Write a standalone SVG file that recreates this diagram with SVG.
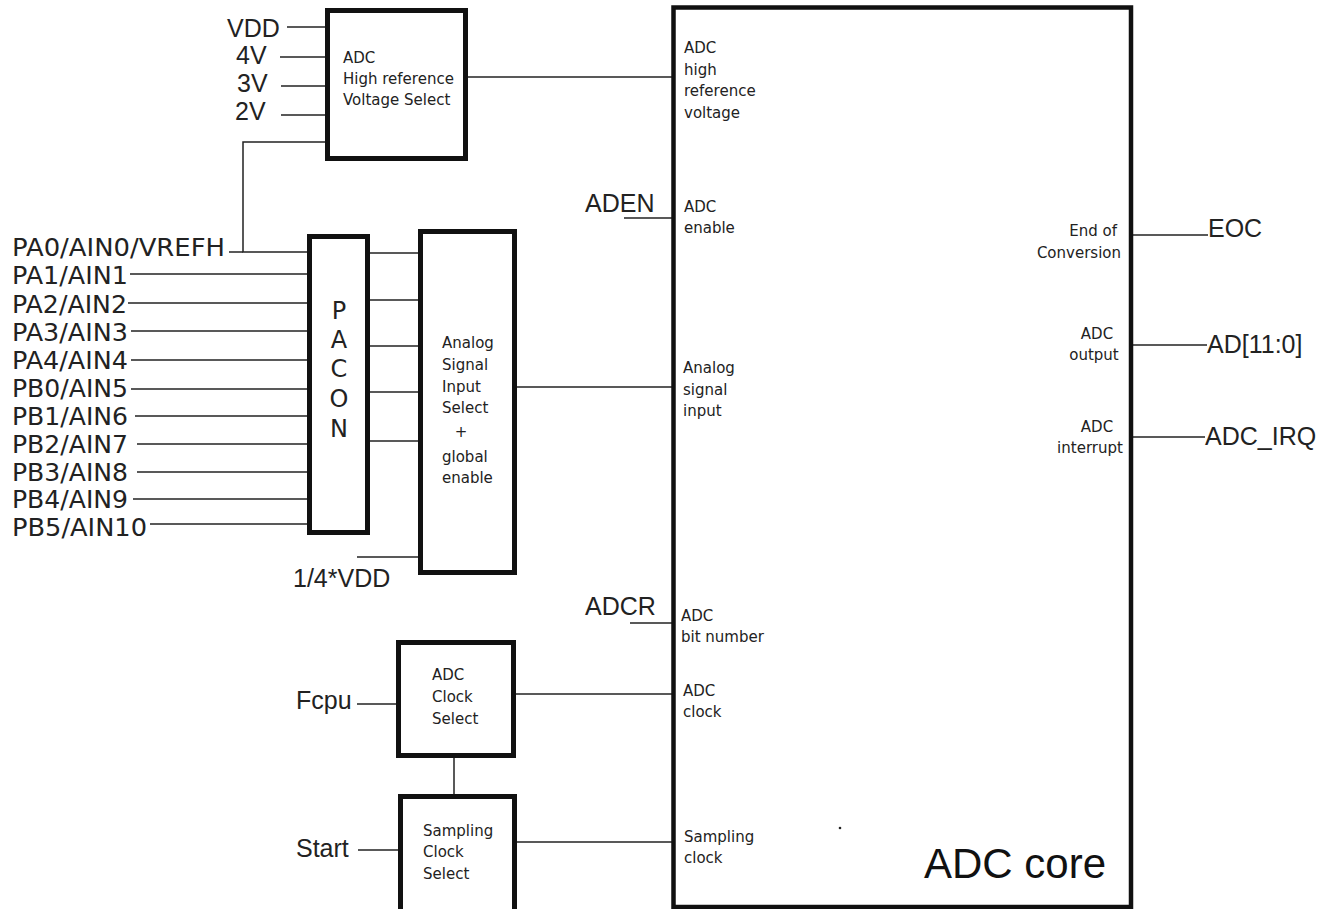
<svg xmlns="http://www.w3.org/2000/svg" width="1331" height="909" viewBox="0 0 1331 909">
<style>
.box{fill:#fff;stroke:#111;stroke-width:5}
.core{fill:#fff;stroke:#111;stroke-width:4.5}
.ln{stroke:#222;stroke-width:1.5;fill:none}
.sm{font-family:"DejaVu Sans",Verdana,sans-serif;font-size:15px;fill:#222}
.lg{font-family:"Liberation Sans",Arial,sans-serif;font-size:25px;fill:#222}
.pin{font-family:"DejaVu Sans",Verdana,sans-serif;font-size:24px;fill:#222}
.pacon{font-family:"DejaVu Sans",Verdana,sans-serif;font-size:24px;fill:#222;text-anchor:middle}
</style>
<rect width="1331" height="909" fill="#fff"/>
<g id="connectors">
<line class="ln" x1="287" y1="27" x2="327" y2="27"/>
<line class="ln" x1="280" y1="57" x2="327" y2="57"/>
<line class="ln" x1="281" y1="86" x2="327" y2="86"/>
<line class="ln" x1="281" y1="115" x2="327" y2="115"/>
<polyline class="ln" points="327,142 243,142 243,252 309,252"/>
<line class="ln" x1="229" y1="252" x2="243" y2="252"/>
<line class="ln" x1="468" y1="77" x2="673" y2="77"/>
<line class="ln" x1="624" y1="218" x2="673" y2="218"/>
<line class="ln" x1="130" y1="274" x2="309" y2="274"/>
<line class="ln" x1="128" y1="303" x2="309" y2="303"/>
<line class="ln" x1="131" y1="331" x2="309" y2="331"/>
<line class="ln" x1="131" y1="360" x2="309" y2="360"/>
<line class="ln" x1="131" y1="389" x2="309" y2="389"/>
<line class="ln" x1="135" y1="416" x2="309" y2="416"/>
<line class="ln" x1="137" y1="444" x2="309" y2="444"/>
<line class="ln" x1="137" y1="472" x2="309" y2="472"/>
<line class="ln" x1="133" y1="499" x2="309" y2="499"/>
<line class="ln" x1="150" y1="524" x2="309" y2="524"/>
<line class="ln" x1="368" y1="253" x2="420" y2="253"/>
<line class="ln" x1="368" y1="300" x2="420" y2="300"/>
<line class="ln" x1="368" y1="346" x2="420" y2="346"/>
<line class="ln" x1="368" y1="392" x2="420" y2="392"/>
<line class="ln" x1="368" y1="441" x2="420" y2="441"/>
<line class="ln" x1="357" y1="557" x2="420" y2="557"/>
<line class="ln" x1="515" y1="387" x2="673" y2="387"/>
<line class="ln" x1="630" y1="623" x2="673" y2="623"/>
<line class="ln" x1="357" y1="704" x2="398" y2="704"/>
<line class="ln" x1="516" y1="694" x2="673" y2="694"/>
<line class="ln" x1="454" y1="756" x2="454" y2="797"/>
<line class="ln" x1="358" y1="850" x2="399" y2="850"/>
<line class="ln" x1="517" y1="842" x2="673" y2="842"/>
<line class="ln" x1="1132" y1="235" x2="1208" y2="235"/>
<line class="ln" x1="1132" y1="345" x2="1207" y2="345"/>
<line class="ln" x1="1132" y1="437" x2="1205" y2="437"/>
</g>
<g id="core">
<rect class="core" x="673.5" y="7.5" width="457.5" height="899.5"/>
<text class="sm" x="684" y="53">ADC</text>
<text class="sm" x="684" y="75">high</text>
<text class="sm" x="684" y="96">reference</text>
<text class="sm" x="684" y="118">voltage</text>
<text class="sm" x="684" y="212">ADC</text>
<text class="sm" x="684" y="233">enable</text>
<text class="sm" x="683" y="373">Analog</text>
<text class="sm" x="683" y="395">signal</text>
<text class="sm" x="683" y="416">input</text>
<text class="sm" x="681" y="621">ADC</text>
<text class="sm" x="681" y="642">bit number</text>
<text class="sm" x="683" y="696">ADC</text>
<text class="sm" x="683" y="717">clock</text>
<text class="sm" x="684" y="842">Sampling</text>
<text class="sm" x="684" y="863">clock</text>
<text class="sm" x="1117" y="236" text-anchor="end">End of</text>
<text class="sm" x="1121" y="258" text-anchor="end">Conversion</text>
<text class="sm" x="1097" y="339" text-anchor="middle">ADC</text>
<text class="sm" x="1094" y="360" text-anchor="middle">output</text>
<text class="sm" x="1097" y="432" text-anchor="middle">ADC</text>
<text class="sm" x="1090" y="453" text-anchor="middle">interrupt</text>
<circle cx="840" cy="828" r="1.3" fill="#222"/>
<text x="924" y="878" font-family="Liberation Sans, Arial, sans-serif" font-size="42" fill="#111">ADC core</text>
</g>
<g id="refsel">
<rect class="box" x="327.5" y="10.5" width="138" height="148"/>
<text class="sm" x="343" y="63">ADC</text>
<text class="sm" x="343" y="84">High reference</text>
<text class="sm" x="343" y="105">Voltage Select</text>
</g>
<g id="pacon">
<rect class="box" x="309.5" y="236.5" width="58" height="296"/>
<text class="pacon" x="339" y="319">P</text>
<text class="pacon" x="339" y="348">A</text>
<text class="pacon" x="339" y="377">C</text>
<text class="pacon" x="339" y="407">O</text>
<text class="pacon" x="339" y="437">N</text>
</g>
<g id="anasel">
<rect class="box" x="420.5" y="231.5" width="94" height="341"/>
<text class="sm" x="442" y="348">Analog</text>
<text class="sm" x="442" y="370">Signal</text>
<text class="sm" x="442" y="392">Input</text>
<text class="sm" x="442" y="413">Select</text>
<text class="sm" x="461" y="437" text-anchor="middle">+</text>
<text class="sm" x="442" y="462">global</text>
<text class="sm" x="442" y="483">enable</text>
</g>
<g id="clksel">
<rect class="box" x="398.5" y="642.5" width="115" height="113"/>
<text class="sm" x="432" y="680">ADC</text>
<text class="sm" x="432" y="702">Clock</text>
<text class="sm" x="432" y="724">Select</text>
</g>
<g id="sampsel">
<rect class="box" x="400.5" y="796.5" width="114" height="120"/>
<text class="sm" x="423" y="836">Sampling</text>
<text class="sm" x="423" y="857">Clock</text>
<text class="sm" x="423" y="879">Select</text>
</g>
<g id="labels">
<text class="lg" x="227" y="37">VDD</text>
<text class="lg" x="236" y="64">4V</text>
<text class="lg" x="237" y="92">3V</text>
<text class="lg" x="235" y="120">2V</text>
<text class="lg" x="585" y="212">ADEN</text>
<text class="lg" x="585" y="615">ADCR</text>
<text class="lg" x="293" y="587">1/4*VDD</text>
<text class="lg" x="296" y="709">Fcpu</text>
<text class="lg" x="296" y="857">Start</text>
<text class="lg" x="1208" y="237">EOC</text>
<text class="lg" x="1207" y="353">AD[11:0]</text>
<text class="lg" x="1205" y="445">ADC_IRQ</text>
<text class="pin" x="12" y="256" textLength="213" lengthAdjust="spacingAndGlyphs">PA0/AIN0/VREFH</text>
<text class="pin" x="12" y="284" textLength="116" lengthAdjust="spacingAndGlyphs">PA1/AIN1</text>
<text class="pin" x="12" y="313" textLength="115" lengthAdjust="spacingAndGlyphs">PA2/AIN2</text>
<text class="pin" x="12" y="341" textLength="116" lengthAdjust="spacingAndGlyphs">PA3/AIN3</text>
<text class="pin" x="12" y="369" textLength="116" lengthAdjust="spacingAndGlyphs">PA4/AIN4</text>
<text class="pin" x="12" y="397" textLength="116" lengthAdjust="spacingAndGlyphs">PB0/AIN5</text>
<text class="pin" x="12" y="425" textLength="116" lengthAdjust="spacingAndGlyphs">PB1/AIN6</text>
<text class="pin" x="12" y="453" textLength="116" lengthAdjust="spacingAndGlyphs">PB2/AIN7</text>
<text class="pin" x="12" y="481" textLength="116" lengthAdjust="spacingAndGlyphs">PB3/AIN8</text>
<text class="pin" x="12" y="508" textLength="116" lengthAdjust="spacingAndGlyphs">PB4/AIN9</text>
<text class="pin" x="12" y="536" textLength="135" lengthAdjust="spacingAndGlyphs">PB5/AIN10</text>
</g>
</svg>
